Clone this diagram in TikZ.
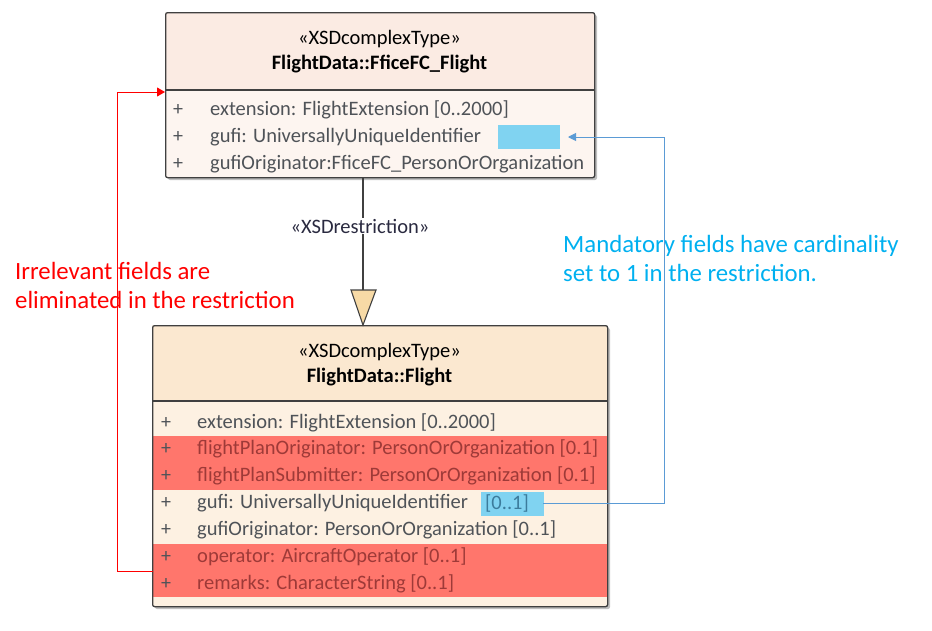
\documentclass[tikz,border=0pt]{standalone}
\usepackage{fontspec}
\setmainfont{Carlito}
\usetikzlibrary{arrows.meta}
\definecolor{boxline}{HTML}{404040}
\definecolor{topfill}{HTML}{FDF5F0}
\definecolor{tophead}{HTML}{FBEBE3}
\definecolor{botfill}{HTML}{FDF1E2}
\definecolor{bothead}{HTML}{FBE8D0}
\definecolor{redband}{HTML}{FF766C}
\definecolor{bluehl}{HTML}{80D3F1}
\definecolor{rowtext}{HTML}{4F5358}
\definecolor{redtext}{HTML}{9E3A38}
\definecolor{hltext}{HTML}{3C7C9C}
\definecolor{annred}{HTML}{FF0000}
\definecolor{annblue}{HTML}{00B0F0}
\definecolor{linkblue}{HTML}{5B9BD5}
\definecolor{trifill}{HTML}{F7DAA6}
\definecolor{stereo}{HTML}{2A2A40}
\begin{document}
\begin{tikzpicture}[x=1pt,y=-1pt,
  row/.style={anchor=west,inner sep=0pt,font=\fontsize{20.5}{24}\selectfont,text=rowtext},
  redrow/.style={row,text=redtext},
  plus/.style={anchor=center,inner sep=0pt,font=\fontsize{20}{24}\selectfont,text=rowtext},
  head/.style={anchor=center,inner sep=0pt,font=\fontsize{20.5}{24}\selectfont,text=black},
  headb/.style={head,font=\fontsize{20.5}{24}\selectfont\bfseries},
  ann/.style={anchor=base west,inner sep=0pt,font=\fontsize{24.8}{29}\selectfont,align=left},
  shadow/.style={fill=black!25,rounded corners=2pt}]
\useasboundingbox (0,0) rectangle (932,630);
% ---------- annotations text (under connectors) ----------
\node[ann,text=annred] (rtxt) at (15,308) {Irrelevant fields are\\eliminated in the restriction};
\node[ann,text=annblue] (btxt) at (563,281) {Mandatory fields have cardinality\\set to 1 in the restriction.};
% ---------- top box ----------
\fill[shadow] (168,15) rectangle (597,180);
\fill[topfill,rounded corners=2pt] (165,12) rectangle (594,177);
\fill[tophead,rounded corners=2pt] (165,12) rectangle (594,90);
\fill[bluehl] (498,125) rectangle (560,149);
\node[draw=boxline,line width=1.3pt,rounded corners=2pt,minimum width=429pt,minimum height=165pt,anchor=north west,inner sep=0pt] (top) at (165,12) {};
\draw[boxline,line width=1.1pt] (165,90) -- (594,90);
\node[head] (t1) at (379.5,39) {«XSDcomplexType»};
\node[headb] (t2) at (379.5,64) {FlightData::FficeFC\_Flight};
\node[plus] (tp1) at (178,110) {+};
\node[plus] (tp2) at (178,137) {+};
\node[plus] (tp3) at (178,164) {+};
\node[row] (tr1) at (210,110) {extension: FlightExtension [0..2000]};
\node[row] (tr2) at (210,137) {gufi: UniversallyUniqueIdentifier};
\node[row] (tr3) at (210,164) {gufiOriginator:FficeFC\_PersonOrOrganization};
\coordinate (tgufi) at (568,137);
% ---------- bottom box ----------
\fill[shadow] (155,328) rectangle (610,609);
\fill[botfill,rounded corners=2pt] (152,325) rectangle (607,606);
\fill[bothead,rounded corners=2pt] (152,325) rectangle (607,401);
\fill[redband] (152,436) rectangle (607,490);
\fill[redband] (152,544) rectangle (607,597);
\fill[bluehl] (481,492) rectangle (544,516);
\node[draw=boxline,line width=1.3pt,rounded corners=2pt,minimum width=455pt,minimum height=281pt,anchor=north west,inner sep=0pt] (bot) at (152,325) {};
\draw[boxline,line width=1.1pt] (152,401) -- (607,401);
\node[head] (b1) at (379.5,352) {«XSDcomplexType»};
\node[headb] (b2) at (379.5,377) {FlightData::Flight};
\foreach \y/\n in {423/1,449/2,476/3,503/4,530/5,557/6,584/7}{
  \node[plus] (bp\n) at (166,\y) {+};}
\node[row] (br1) at (197,423) {extension: FlightExtension [0..2000]};
\node[redrow] (br2) at (197,449) {flightPlanOriginator: PersonOrOrganization [0.1]};
\node[redrow] (br3) at (197,476) {flightPlanSubmitter: PersonOrOrganization [0.1]};
\node[row] (br4) at (197,503) {gufi: UniversallyUniqueIdentifier};
\node[row,text=hltext] (br4c) at (485,503) {[0..1]};
\node[row] (br5) at (197,530) {gufiOriginator: PersonOrOrganization [0..1]};
\node[redrow] (br6) at (197,557) {operator: AircraftOperator [0..1]};
\node[redrow] (br7) at (197,584) {remarks: CharacterString [0..1]};
\coordinate (bgufi) at (543,503);
% ---------- generalization ----------
\coordinate (gstart) at (363,177);
\coordinate (gtip) at (363,325);
\coordinate (gbase) at (363,290);
\draw[boxline,line width=1.2pt] (gstart) -- (gbase);
\node[anchor=center,inner sep=1pt,fill=white,text=stereo,font=\fontsize{20.5}{24}\selectfont] (glab) at (360,226) {«XSDrestriction»};
\draw[boxline,line width=1.1pt,fill=trifill,line join=miter] (gtip) -- (351,290) -- (376,290) -- cycle;
% ---------- red connector ----------
\coordinate (rb) at (153,571);
\coordinate (rc1) at (117,571);
\coordinate (rc2) at (117,92);
\coordinate (rend) at (165,92);
\draw[annred,line width=1pt,-{Triangle[length=8pt,width=9pt]}] (rb) -- (rc1) -- (rc2) -- (rend);
% ---------- blue connector ----------
\coordinate (bc1) at (664,503);
\coordinate (bc2) at (664,137);
\draw[linkblue,line width=0.9pt,-{Triangle[length=8pt,width=8pt]}] (bgufi) -- (bc1) -- (bc2) -- (tgufi);
\end{tikzpicture}
\end{document}
